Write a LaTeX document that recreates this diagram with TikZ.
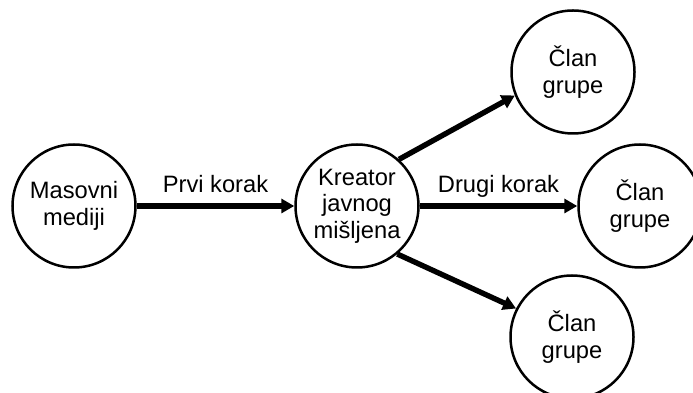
\documentclass[tikz,border=0pt]{standalone}
\usepackage{fontspec}
\setmainfont{Liberation Sans}
\usetikzlibrary{arrows.meta}
\begin{document}
\begin{tikzpicture}[x=1pt,y=1pt,
  actor/.style={circle, draw=black, line width=2.5pt, minimum size=123pt,
    inner sep=0pt, align=center, font=\fontsize{23.7}{26.5}\selectfont},
  flow/.style={line width=5.4pt, -{Triangle[length=13pt,width=14pt]}},
  steplabel/.style={anchor=base, yshift=13pt, font=\fontsize{23.7}{26.5}\selectfont}]
  \useasboundingbox (0,0) rectangle (693,393);

  % people in the two-step flow
  \node[actor] (media)   at (74,187)  {Masovni\\mediji};
  \node[actor] (leader)  at (357,187) {Kreator\\javnog\\mišljena};
  \node[actor] (memberA) at (573,321) {Član\\grupe};
  \node[actor] (memberB) at (640,187) {Član\\grupe};
  \node[actor] (memberC) at (572,56)  {Član\\grupe};

  % first step: media to opinion leader
  \draw[flow] (media.east) -- node[pos=0.5, steplabel] {Prvi korak} (leader.west);

  % second step: opinion leader to group members
  \draw[flow] (leader.east) -- node[pos=0.5, steplabel] {Drugi korak} (memberB.west);
  \draw[flow] (leader.48) -- (memberA.202);
  \draw[flow] (leader.-50) -- (memberC.153);
\end{tikzpicture}
\end{document}
